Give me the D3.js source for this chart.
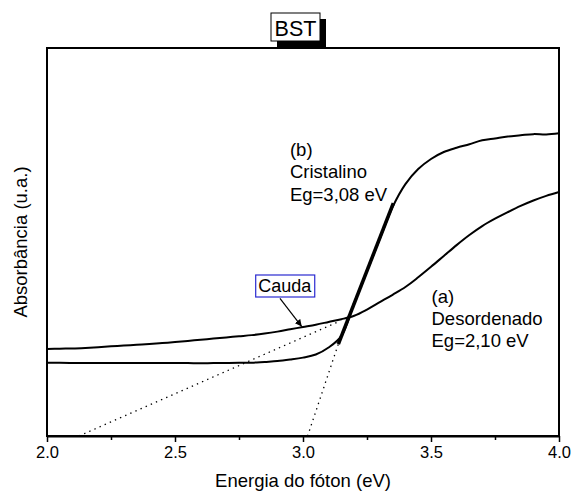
<!DOCTYPE html>
<html>
<head>
<meta charset="utf-8">
<script src="https://cdn.jsdelivr.net/npm/d3@7"></script>
<style>
  html, body { margin: 0; padding: 0; background: #fff; }
  svg { display: block; }
  text { font-family: "Liberation Sans", Arial, sans-serif; fill: #000; }
</style>
</head>
<body>
<script>
// Photon energy grid (eV)
const energy = [2.00,2.05,2.10,2.15,2.20,2.25,2.30,2.35,2.40,2.45,2.50,2.55,2.60,2.65,2.70,2.75,2.80,2.85,2.90,2.95,
                3.00,3.05,3.10,3.15,3.20,3.25,3.30,3.35,3.40,3.45,3.50,3.55,3.60,3.65,3.70,3.75,3.80,3.85,3.90,3.95,4.00];

// (a) disordered sample – absorbance (a.u.)
const absDesordenado = [0.224,0.225,0.2255,0.227,0.229,0.231,0.233,0.235,0.237,0.2395,0.242,0.245,0.248,0.251,0.254,0.257,0.260,0.264,0.269,0.275,
                        0.281,0.287,0.294,0.301,0.310,0.326,0.345,0.364,0.384,0.409,0.436,0.464,0.492,0.518,0.541,0.560,0.577,0.593,0.607,0.619,0.629];

// (b) crystalline sample – absorbance (a.u.)
const absCristalino = [0.189,0.1885,0.188,0.188,0.188,0.188,0.188,0.188,0.188,0.188,0.188,0.188,0.1875,0.188,0.188,0.1885,0.189,0.191,0.193,0.197,
                       0.202,0.210,0.228,0.258,0.343,0.425,0.508,0.590,0.649,0.688,0.714,0.732,0.743,0.752,0.762,0.767,0.772,0.775,0.778,0.777,0.780];

// Linear fits used to estimate the gap: [energy, absorbance] end points
const tangentB   = [[3.138, 0.237], [3.353, 0.600]];
const extrapB    = [[3.018, 0.000], [3.138, 0.237]];
const extrapA    = [[2.125, 0.000], [3.137, 0.294]];

// Axis ticks
const majorTicks = [2.0, 2.5, 3.0, 3.5, 4.0];
const minorTicks = [2.25, 2.75, 3.25, 3.75];

const W = 571, H = 492;
const plot = { left: 47, right: 559, top: 48, bottom: 436 };

const svg = d3.select("body").append("svg")
  .attr("width", W).attr("height", H);

const x = d3.scaleLinear().domain([2.0, 4.0]).range([plot.left, plot.right]);
const y = d3.scaleLinear().domain([0, 1]).range([plot.bottom, plot.top]);

// Frame
svg.append("rect")
  .attr("x", plot.left).attr("y", plot.top)
  .attr("width", plot.right - plot.left).attr("height", plot.bottom - plot.top)
  .attr("fill", "none").attr("stroke", "#000").attr("stroke-width", 2);

// Bottom axis: major ticks with labels, minor ticks without
const gMajor = svg.append("g")
  .attr("transform", `translate(0,${plot.bottom})`)
  .call(d3.axisBottom(x).tickValues(majorTicks).tickFormat(d3.format(".1f")).tickSize(6).tickSizeOuter(0).tickPadding(4));
gMajor.select(".domain").attr("stroke-width", 2);
gMajor.selectAll(".tick line").attr("stroke-width", 1.5);
gMajor.selectAll(".tick text")
  .style("font-family", "'Liberation Sans', Arial, sans-serif")
  .style("font-size", "16.5px");

const gMinor = svg.append("g")
  .attr("transform", `translate(0,${plot.bottom})`)
  .call(d3.axisBottom(x).tickValues(minorTicks).tickFormat("").tickSize(4).tickSizeOuter(0));
gMinor.select(".domain").remove();
gMinor.selectAll(".tick line").attr("stroke-width", 1.5);

// Axis titles
svg.append("text")
  .attr("x", (plot.left + plot.right) / 2).attr("y", 487)
  .attr("text-anchor", "middle").style("font-size", "18.5px")
  .text("Energia do fóton (eV)");

svg.append("text")
  .attr("transform", `translate(27,${(plot.top + plot.bottom) / 2}) rotate(-90)`)
  .attr("text-anchor", "middle").style("font-size", "18.5px")
  .text("Absorbância (u.a.)");

// Dotted extrapolations
const seg = d3.line().x(d => x(d[0])).y(d => y(d[1]));
[extrapA, extrapB].forEach(s => {
  svg.append("path").attr("d", seg(s))
    .attr("fill", "none").attr("stroke", "#000")
    .attr("stroke-width", 1.3).attr("stroke-dasharray", "1.4,4.2");
});

// Spectra
const curve = d3.line()
  .x((d, i) => x(energy[i])).y(d => y(d))
  .curve(d3.curveCatmullRom.alpha(0.5));

svg.append("path").datum(absDesordenado).attr("d", curve)
  .attr("fill", "none").attr("stroke", "#000").attr("stroke-width", 2);
svg.append("path").datum(absCristalino).attr("d", curve)
  .attr("fill", "none").attr("stroke", "#000").attr("stroke-width", 2);

// Tangent fit on the absorption edge of (b)
svg.append("path").attr("d", seg(tangentB))
  .attr("fill", "none").attr("stroke", "#000").attr("stroke-width", 3.6);

// Sample labels
function block(x0, y0, lines, step) {
  const t = svg.append("text").attr("x", x0).attr("y", y0).style("font-size", "18.5px");
  lines.forEach((s, i) => t.append("tspan").attr("x", x0).attr("y", y0 + i * step).text(s));
}
block(x(2.949), 155.5, ["(b)", "Cristalino", "Eg=3,08 eV"], 22.5);
block(x(3.502), 302.5, ["(a)", "Desordenado", "Eg=2,10 eV"], 22.2);

// "Cauda" callout with arrow to the tail of (a)
const defs = svg.append("defs");
defs.append("marker").attr("id", "arrowHead")
  .attr("viewBox", "0 0 10 10").attr("refX", 10).attr("refY", 5)
  .attr("markerWidth", 7).attr("markerHeight", 7).attr("markerUnits", "userSpaceOnUse")
  .attr("orient", "auto")
  .append("path").attr("d", "M0,0 L10,5 L0,10 Z").attr("fill", "#000");

svg.append("line")
  .attr("x1", x(2.910)).attr("y1", y(0.355))
  .attr("x2", x(2.995)).attr("y2", y(0.282))
  .attr("stroke", "#000").attr("stroke-width", 1.2)
  .attr("marker-end", "url(#arrowHead)");

const gCauda = svg.append("g");
const caudaBox = gCauda.append("rect");
const cauda = gCauda.append("text")
  .attr("x", x(2.825)).attr("y", 292.3).style("font-size", "18px")
  .text("Cauda");
const cb = cauda.node().getBBox();
caudaBox
  .attr("x", cb.x - 2.5).attr("y", 275).attr("width", cb.width + 5).attr("height", 22)
  .attr("fill", "#fff").attr("stroke", "#2a2ad0").attr("stroke-width", 1.2);

// Title box with drop shadow
const tb = { x: 271, y: 13, w: 49, h: 28, off: 6 };
svg.append("rect").attr("x", tb.x + tb.off).attr("y", tb.y + tb.off)
  .attr("width", tb.w).attr("height", tb.h).attr("fill", "#000");
svg.append("rect").attr("x", tb.x).attr("y", tb.y)
  .attr("width", tb.w).attr("height", tb.h)
  .attr("fill", "#fff").attr("stroke", "#000").attr("stroke-width", 1);
svg.append("text").attr("x", tb.x + tb.w / 2).attr("y", 36)
  .attr("text-anchor", "middle").style("font-size", "21.5px")
  .text("BST");
</script>
</body>
</html>
